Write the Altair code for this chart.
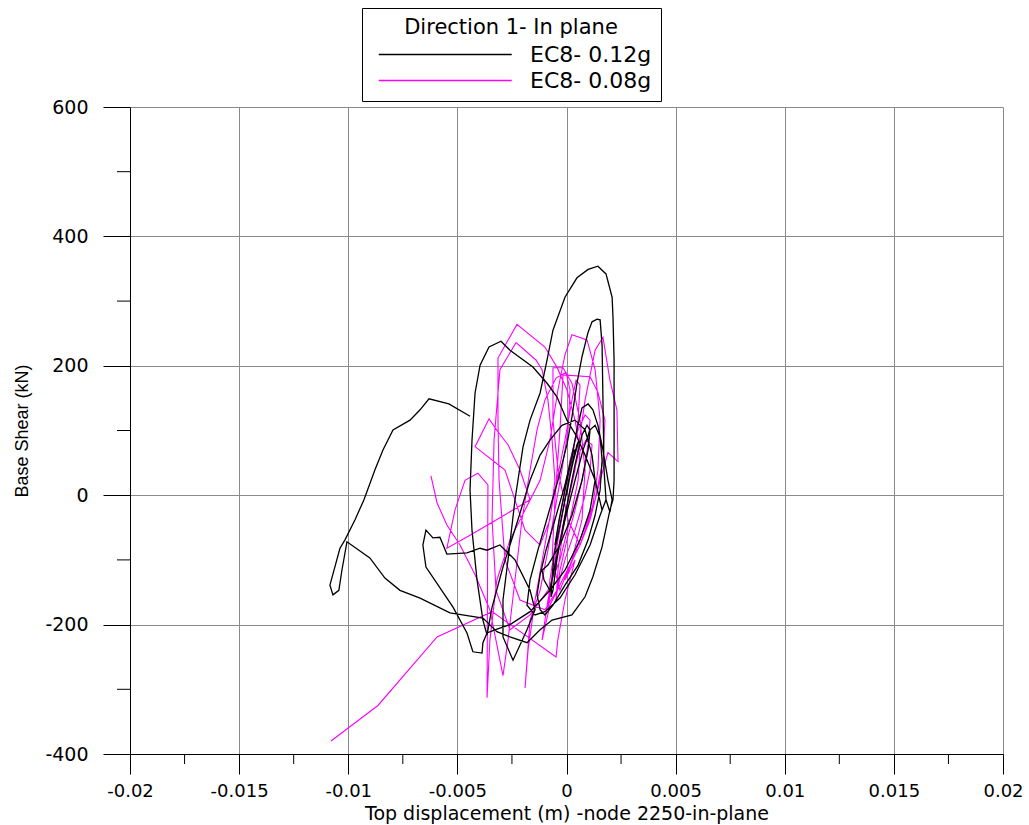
import altair as alt
import pandas as pd

# ---- data (x: top displacement in m, y: base shear in kN)
black_pts = [
    (0.0, 0), (0.00021, 39), (0.00039, 70), (0.0003, 67), (-0.00002, 16), (-0.00034, -38),
    (-0.00053, -77), (-0.00039, -62), (-0.00007, -7), (0.0003, 51), (0.00057, 85), (0.00048, 78),
    (0.00011, 23), (-0.00025, -38), (-0.00057, -92), (-0.00066, -126), (-0.00071, -157), (-0.00062, -147),
    (-0.00044, -100), (-0.00007, -31), (0.00039, 47), (0.00071, 93), (0.00094, 108), (0.00108, 101),
    (0.00099, 70), (0.00071, 23), (0.00025, -31), (-0.0003, -77), (-0.00085, -108), (-0.00112, -116),
    (-0.00103, -131), (-0.00076, -147), (-0.00048, -100), (-0.00007, -38), (0.00039, 23), (0.00076, 70),
    (0.00108, 101), (0.00131, 108), (0.00154, 90), (0.00163, 54), (0.00154, 8), (0.00131, -31),
    (0.00099, -69), (0.00053, -108), (-0.00007, -139), (-0.00062, -170), (-0.00099, -185), (-0.00121, -177),
    (-0.00135, -154), (-0.00121, -123), (-0.00094, -85), (-0.00053, -38), (-0.00007, 16), (0.00025, 62),
    (0.00048, 101), (0.00071, 135), (0.00099, 141), (0.00121, 132), (0.00144, 108), (0.00167, 70),
    (0.0019, 23), (0.00209, -7), (0.00199, -26), (0.00181, -7), (0.00154, -31), (0.00108, -77),
    (0.00039, -123), (-0.0003, -159), (-0.00099, -180), (-0.00144, -185), (-0.00181, -170), (-0.00167, -131),
    (-0.00131, -85), (-0.00085, -31), (-0.00039, 23), (0.00002, 78), (0.00025, 121), (0.00048, 173),
    (0.00071, 214), (0.00099, 252), (0.00117, 268), (0.0014, 272), (0.00154, 271), (0.00163, 232),
    (0.00167, 147), (0.00172, 39), (0.00181, -7), (0.00163, -23), (0.00131, 23), (0.00085, 62),
    (0.00048, 90), (0.00002, 116), (-0.00044, 152), (-0.00089, 173), (-0.00154, 198), (-0.00259, 224),
    (-0.003, 238), (-0.00355, 229), (-0.00396, 201), (-0.00419, 158), (-0.00433, 85), (-0.00442, 8),
    (-0.00433, -54), (-0.0041, -131), (-0.00383, -193), (-0.00364, -216), (-0.00341, -173), (-0.00291, -111),
    (-0.00227, -43), (-0.00167, 23), (-0.00121, 62), (-0.00076, 85), (-0.00021, 108), (0.00039, 116),
    (0.00085, 101), (0.00117, 62), (0.00131, 23), (0.00108, -23), (0.00062, -69), (-0.00007, -116),
    (-0.00076, -147), (-0.00167, -180), (-0.00259, -200), (-0.00328, -208), (-0.00364, -213), (-0.00383, -228),
    (-0.00387, -244), (-0.00429, -242), (-0.00456, -213), (-0.0052, -173), (-0.00644, -111), (-0.00658, -77),
    (-0.00644, -54), (-0.00612, -66), (-0.0058, -65), (-0.00548, -91), (-0.00456, -89), (-0.00396, -82),
    (-0.00364, -85), (-0.00305, -77), (-0.00236, -100), (-0.00167, -147), (-0.00144, -177), (-0.00181, -208),
    (-0.00245, -255), (-0.00291, -219), (-0.00291, -162), (-0.00268, -100), (-0.00236, -7), (-0.00199, 75),
    (-0.00167, 116), (-0.00121, 158), (-0.00089, 209), (-0.00062, 255), (-0.00007, 306), (0.00048, 336),
    (0.00099, 349), (0.00144, 354), (0.00181, 342), (0.00209, 306), (0.00213, 275), (0.00218, 209),
    (0.00218, 116), (0.00218, 23), (0.00213, -7), (0.00199, -23), (0.00163, -80), (0.00121, -126),
    (0.00085, -157), (0.00025, -185), (-0.00066, -193), (-0.00121, -208), (-0.00181, -228), (-0.00259, -219),
    (-0.00319, -211), (-0.00383, -190), (-0.00534, -182), (-0.00671, -159), (-0.00763, -147), (-0.00832, -128),
    (-0.00901, -97), (-0.01006, -72), (-0.01029, -116), (-0.01043, -147), (-0.0107, -154), (-0.01084, -139),
    (-0.01038, -82), (-0.01015, -69), (-0.00969, -38), (-0.00928, -7), (-0.00878, 39), (-0.00841, 70),
    (-0.00795, 101), (-0.00717, 116), (-0.00671, 132), (-0.0063, 149), (-0.00539, 141), (-0.00442, 122),
]

magenta_pts = [
    (-0.00621, 30), (-0.00593, -12), (-0.00548, -46), (-0.00488, -77), (-0.00419, -123), (-0.00351, -177),
    (-0.00291, -279), (-0.00268, -224), (-0.00236, -131), (-0.00204, -38), (-0.00167, 39), (-0.00135, 101),
    (-0.00099, 147), (-0.00048, 181), (-0.00002, 190), (0.00016, 163), (0.00007, 101), (-0.00021, 39),
    (-0.00053, -23), (-0.00085, -85), (-0.00121, -147), (-0.00167, -193), (-0.0019, -298), (-0.00176, -239),
    (-0.00144, -162), (-0.00099, -77), (-0.00053, 8), (-0.00007, 85), (0.00025, 147), (0.00044, 178),
    (0.00062, 170), (0.00053, 116), (0.00025, 54), (-0.00007, -7), (-0.00039, -69), (-0.00066, -131),
    (-0.00085, -177), (-0.00076, -131), (-0.00048, -69), (-0.00016, -7), (0.00016, 54), (0.00053, 101),
    (0.00085, 124), (0.00108, 116), (0.00099, 78), (0.00071, 23), (0.00039, -23), (0.00002, -69),
    (-0.0003, -116), (-0.00048, -162), (-0.00039, -116), (-0.00016, -54), (0.00016, 8), (0.00053, 62),
    (0.00089, 85), (0.00117, 78), (0.00108, 39), (0.0008, -7), (0.00039, -54), (-0.00007, -100),
    (-0.00044, -147), (-0.00099, -177), (-0.00213, -162), (-0.00282, -100), (-0.00309, 23), (-0.00314, 116),
    (-0.00314, 167), (-0.00314, 212), (-0.00227, 264), (-0.00099, 229), (-0.00044, 198), (0.00002, 163),
    (0.00039, 116), (0.00062, 70), (0.00053, 23), (0.00016, -38), (-0.0003, -100), (-0.00085, -147),
    (-0.00167, -185), (-0.00259, -208), (-0.00323, -147), (-0.00341, -38), (-0.00332, 85), (-0.00305, 194),
    (-0.00231, 236), (-0.0014, 209), (-0.00112, 194), (-0.00085, 147), (-0.00066, 85), (-0.00053, 23),
    (-0.00076, -38), (-0.00121, -77), (-0.0019, -54), (-0.00282, 39), (-0.00419, 75), (-0.00355, 118),
    (-0.00314, 98), (-0.00268, 78), (-0.00213, 39), (-0.00167, -7), (-0.00305, -35), (-0.00442, -62),
    (-0.00548, -82), (-0.00511, -23), (-0.00465, 23), (-0.00406, 34), (-0.0036, 16), (-0.00364, -313),
    (-0.00351, -224), (-0.00319, -131), (-0.00259, -69), (-0.0019, -23), (-0.00121, 23), (-0.00076, 85),
    (-0.00039, 163), (-0.00007, 217), (0.00025, 248), (0.00094, 240), (0.00131, 194), (0.00154, 116),
    (0.00144, 39), (0.00117, -23), (0.00062, -77), (-0.00007, -123), (-0.00076, -170), (-0.00112, -224),
    (-0.00085, -162), (-0.0003, -69), (0.00039, 39), (0.00085, 147), (0.00131, 224), (0.00167, 244),
    (0.00199, 178), (0.00231, 132), (0.00236, 52), (0.0019, 66), (0.00154, 23), (0.00108, -38),
    (0.00062, -77), (0.00007, -38), (-0.00039, 39), (-0.00062, 116), (-0.00062, 197), (-0.00016, 197),
    (0.00025, 173), (0.00062, 116), (0.00085, 39), (0.00071, -38), (0.00025, -100), (-0.0003, -147),
    (-0.00066, -100), (-0.00053, -7), (-0.0003, 101), (-0.00016, 186), (0.00108, 183), (0.00144, 159),
    (0.00176, 116), (0.00167, 54), (0.00131, -7), (0.00062, -69), (-0.00007, -131),
    (0.00039, -100), (-0.00007, -162), (-0.0004, -224), (-0.00048, -250), (-0.00341, -180), (-0.00593, -219),
    (-0.00864, -325), (-0.01079, -380),
]

series = ["EC8- 0.12g", "EC8- 0.08g"]
series_colors = ["#000000", "#ff00ff"]
x_ticks = [-0.02, -0.015, -0.01, -0.005, 0, 0.005, 0.01, 0.015, 0.02]
y_ticks = [-400, -200, 0, 200, 400, 600]
x_minor = [-0.0175, -0.0125, -0.0075, -0.0025, 0.0025, 0.0075, 0.0125, 0.0175]
y_minor = [-300, -100, 100, 300, 500]

df_b = pd.DataFrame({"x": [p[0] for p in black_pts], "y": [p[1] for p in black_pts],
                     "i": list(range(len(black_pts))), "s": series[0]})
df_m = pd.DataFrame({"x": [p[0] for p in magenta_pts], "y": [p[1] for p in magenta_pts],
                     "i": list(range(len(magenta_pts))), "s": series[1]})

xscale = alt.Scale(domain=[-0.02, 0.02], nice=False, zero=False)
yscale = alt.Scale(domain=[-400, 600], nice=False, zero=False)

xaxis = alt.Axis(values=x_ticks, labelExpr="'' + datum.value",
                 title="Top displacement (m) -node 2250-in-plane",
                 grid=True, gridColor="#8a8a8a", gridWidth=1,
                 domainColor="black", tickColor="black", tickSize=20,
                 labelPadding=8, labelFont="DejaVu Sans", labelFontSize=18, labelColor="black",
                 labelFlush=False, labelOverlap=False,
                 titleFont="DejaVu Sans", titleFontSize=19, titleFontWeight="normal",
                 titleColor="black", titlePadding=4)
yaxis = alt.Axis(values=y_ticks, labelExpr="'' + datum.value",
                 title="Base Shear (kN)",
                 grid=True, gridColor="#8a8a8a", gridWidth=1,
                 domainColor="black", tickColor="black", tickSize=27,
                 labelPadding=15, labelFont="DejaVu Sans", labelFontSize=19, labelColor="black",
                 labelFlush=False, labelOverlap=False,
                 titleFont="'Liberation Sans Narrow', 'Liberation Sans', sans-serif",
                 titleFontSize=18, titleFontWeight="normal",
                 titleColor="black", titlePadding=13)

color = alt.Color("s:N", scale=alt.Scale(domain=series, range=series_colors),
                  legend=alt.Legend(title="Direction 1- In plane", orient="none",
                                    legendX=232, legendY=-99,
                                    symbolType="M-0.5,0L9.35,0", symbolSize=729,
                                    symbolStrokeWidth=1.6,
                                    labelFont="DejaVu Sans", labelFontSize=22, labelColor="black",
                                    labelOffset=130, labelLimit=300,
                                    titleFont="DejaVu Sans", titleFontSize=21, titleFontWeight="normal",
                                    titleColor="black", titleAnchor="middle", titlePadding=2,
                                    titleLimit=400,
                                    strokeColor="black", fillColor="white", padding=9,
                                    rowPadding=0))

black = alt.Chart(df_b).mark_line(strokeWidth=1.3).encode(
    x=alt.X("x:Q", scale=xscale, axis=xaxis),
    y=alt.Y("y:Q", scale=yscale, axis=yaxis),
    order="i:Q",
    color=color,
)
magenta = alt.Chart(df_m).mark_line(strokeWidth=1.1).encode(
    x=alt.X("x:Q", scale=xscale, axis=xaxis),
    y=alt.Y("y:Q", scale=yscale, axis=yaxis),
    order="i:Q",
    color=color,
)

ymin = alt.Chart(pd.DataFrame({"y": y_minor})).mark_rule(color="black", strokeWidth=1).encode(
    y=alt.Y("y:Q", scale=yscale, axis=yaxis), x=alt.value(-13), x2=alt.value(0))
xmin = alt.Chart(pd.DataFrame({"x": x_minor})).mark_rule(color="black", strokeWidth=1).encode(
    x=alt.X("x:Q", scale=xscale, axis=xaxis), y=alt.value(647), y2=alt.value(657))

chart = alt.layer(magenta, black, ymin, xmin).properties(
    width=873, height=647,
    autosize=alt.AutoSizeParams(type="none"),
    padding={"left": 130, "top": 107, "right": 26, "bottom": 71},
    background="white",
).configure_view(stroke="transparent")

chart.save("out.html", embed_options={"renderer": "svg", "actions": False})
